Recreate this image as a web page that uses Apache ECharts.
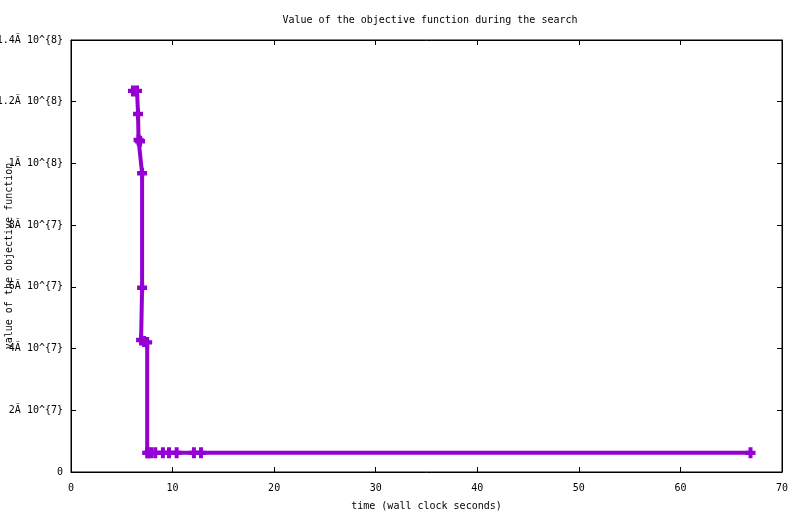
<!DOCTYPE html>
<html>
<head>
<meta charset="utf-8">
<script src="https://cdn.jsdelivr.net/npm/echarts@6/dist/echarts.min.js"></script>
<style>html,body{margin:0;padding:0;background:#fff}#c{width:800px;height:514px}</style>
</head>
<body>
<div id="c"></div>
<script>
// time (wall clock seconds)
var times = [6.1, 6.5, 6.6, 6.65, 6.8, 7.0, 7.0, 6.9, 7.2, 7.5, 7.5, 7.6, 7.9, 8.3, 9.05, 9.65, 10.4, 12.1, 12.8, 66.9];
// objective value (in units of 1e6)
var values = [123.5, 123.5, 116.0, 107.6, 107.2, 96.8, 59.7, 42.8, 42.3, 42.0, 6.2, 6.2, 6.2, 6.2, 6.2, 6.2, 6.2, 6.2, 6.2, 6.2];
var yTickLabels = {0: '0', 20: '2\u00c3 10^{7}', 40: '4\u00c3 10^{7}', 60: '6\u00c3 10^{7}', 80: '8\u00c3 10^{7}', 100: '1\u00c3 10^{8}', 120: '1.2\u00c3 10^{8}', 140: '1.4\u00c3 10^{8}'};

var data = times.map(function (t, i) { return [t, values[i] * 1e6]; });
var font = 'DejaVu Sans Mono';
var chart = echarts.init(document.getElementById('c'), null, {renderer: 'canvas'});
var axisLine = {show: true, onZero: false, lineStyle: {color: '#000', width: 1}};
var tick = {show: true, inside: true, length: 5, lineStyle: {color: '#000'}};
chart.setOption({
  animation: false,
  backgroundColor: '#fff',
  title: {
    text: 'Value of the objective function during the search',
    left: 425, top: 10, textAlign: 'center',
    textStyle: {fontFamily: font, fontSize: 10, fontWeight: 'normal', color: '#000'}
  },
  grid: {left: 71, right: 18, top: 40, bottom: 42, containLabel: false, outerBoundsMode: 'none',
    show: true, borderColor: '#000', borderWidth: 1},
  xAxis: [{
    type: 'value', min: 0, max: 70, interval: 10, position: 'bottom',
    name: 'time (wall clock seconds)', nameLocation: 'middle', nameGap: 29, nameMoveOverlap: false,
    nameTextStyle: {fontFamily: font, fontSize: 10, color: '#000'},
    axisLine: axisLine, axisTick: tick, splitLine: {show: false},
    axisLabel: {fontFamily: font, fontSize: 10, color: '#000', margin: 11}
  }, {
    type: 'value', min: 0, max: 70, interval: 10, position: 'top',
    axisLine: axisLine, axisTick: tick, splitLine: {show: false}, axisLabel: {show: false}
  }],
  yAxis: [{
    type: 'value', min: 0, max: 140e6, interval: 20e6, position: 'left',
    name: 'value of the objective function', nameLocation: 'middle', nameGap: 57, nameRotate: 90,
    nameMoveOverlap: false,
    nameTextStyle: {fontFamily: font, fontSize: 10, color: '#000'},
    axisLine: axisLine, axisTick: tick, splitLine: {show: false},
    axisLabel: {fontFamily: font, fontSize: 10, color: '#000', margin: 8,
      formatter: function (v) { return yTickLabels[Math.round(v / 1e6)]; }}
  }, {
    type: 'value', min: 0, max: 140e6, interval: 20e6, position: 'right',
    axisLine: axisLine, axisTick: tick, splitLine: {show: false}, axisLabel: {show: false}
  }],
  series: [{
    type: 'line', data: data, xAxisIndex: 0, yAxisIndex: 0,
    lineStyle: {color: '#9400d3', width: 4},
    itemStyle: {color: '#9400d3'},
    symbol: 'path://M3,0H7V3H10V7H7V10H3V7H0V3H3Z', symbolSize: [10, 11],
    showAllSymbol: true
  }]
});
</script>
</body>
</html>
